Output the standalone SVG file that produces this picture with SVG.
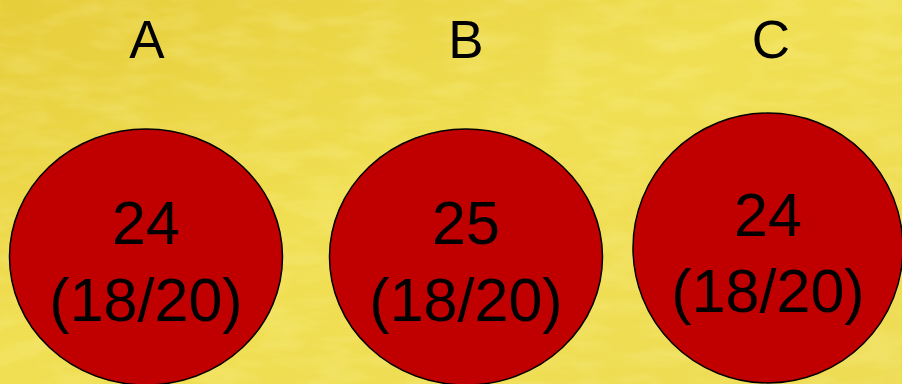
<svg xmlns="http://www.w3.org/2000/svg" width="902" height="384" viewBox="0 0 902 384">
<style>
.lbl{font-family:"Liberation Sans",Arial,sans-serif;font-size:53px;fill:#000;text-anchor:middle}
.num{font-family:"Liberation Sans",Arial,sans-serif;font-size:61px;fill:#000;text-anchor:middle}
.node ellipse{fill:#c00000;stroke:#000;stroke-width:1.5}
</style>
<defs>
<linearGradient id="bg" x1="0" y1="0" x2="1" y2="1">
<stop offset="0" stop-color="#e6cd3a"/>
<stop offset="0.45" stop-color="#f0df52"/>
<stop offset="1" stop-color="#eedc55"/>
</linearGradient>
<filter id="tex" x="0" y="0" width="100%" height="100%">
<feTurbulence type="fractalNoise" baseFrequency="0.02 0.06" numOctaves="3" seed="4" result="n"/>
<feColorMatrix in="n" type="matrix" values="0 0 0 0 1  0 0 0 0 0.95  0 0 0 0 0.5  0 0 0 0.9 -0.35"/>
</filter>
</defs>
<rect width="902" height="384" fill="url(#bg)"/>
<rect width="902" height="384" filter="url(#tex)" opacity="0.5"/>
<g id="connectors"></g>
<g id="label-A"><text class="lbl" x="147" y="58">A</text></g>
<g id="label-B"><text class="lbl" x="466" y="58">B</text></g>
<g id="label-C"><text class="lbl" x="771" y="58">C</text></g>
<g id="node-A" class="node">
<ellipse cx="146" cy="257" rx="136.5" ry="128"/>
<text class="num" x="146" y="244">24</text>
<text class="num" x="146" y="321">(18/20)</text>
</g>
<g id="node-B" class="node">
<ellipse cx="466" cy="257" rx="136.5" ry="128"/>
<text class="num" x="466" y="244">25</text>
<text class="num" x="466" y="321">(18/20)</text>
</g>
<g id="node-C" class="node">
<ellipse cx="768" cy="248" rx="135" ry="135"/>
<text class="num" x="768" y="236">24</text>
<text class="num" x="768" y="312">(18/20)</text>
</g>
</svg>
